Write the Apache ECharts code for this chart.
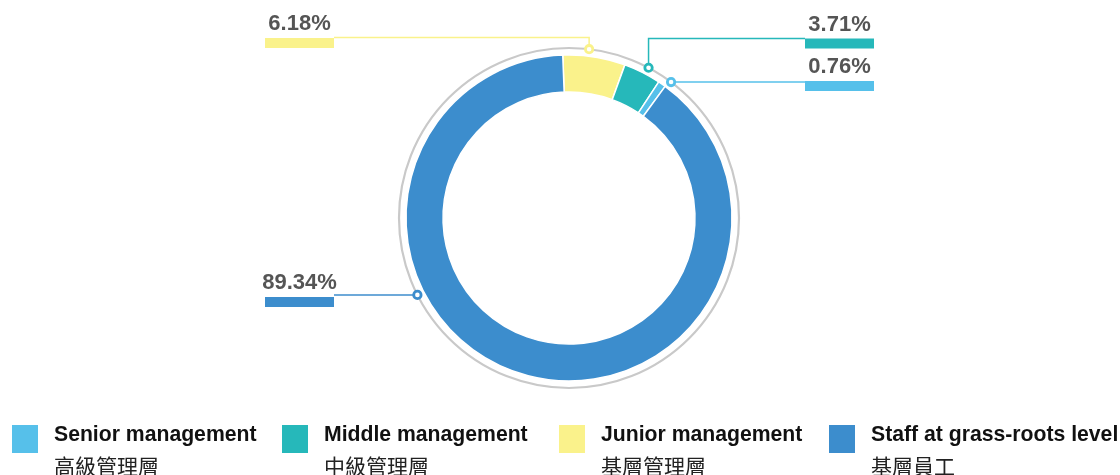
<!DOCTYPE html>
<html><head><meta charset="utf-8">
<script src="https://cdn.jsdelivr.net/npm/echarts@6/dist/echarts.min.js"></script>
<style>html,body{margin:0;padding:0;background:#fff}#c{width:1120px;height:475px}</style>
</head><body><div id="c"></div>
<script>
// ---- data ----
const categories = ['Junior management', 'Middle management', 'Senior management', 'Staff at grass-roots level'];
const categoriesZh = ['基層管理層', '中級管理層', '高級管理層', '基層員工'];
const values = [6.18, 3.71, 0.76, 89.34];
const colors = ['#FAF28B', '#26B8BA', '#56C0EA', '#3C8DCD'];
const legendOrder = [2, 1, 0, 3];

// ---- layout ----
const CX = 569, CY = 218, RING = 170;
const labelCfg = [
  { angle: 6.8,   barLeft: 265, barTop: 38,   lineY: 37.5, side: 'left' },
  { angle: 27.9,  barLeft: 805, barTop: 38.5, lineY: 38.5, side: 'right' },
  { angle: 36.9,  barLeft: 805, barTop: 81,   lineY: null, side: 'right' },
  { angle: 243.1, barLeft: 265, barTop: 297,  lineY: null, side: 'left' }
];
const legendX = [10, 280, 557, 827];
const BAR_W = 69, BAR_H = 10, TEXT_LH = 28;

function anchor(i) {
  const a = labelCfg[i].angle * Math.PI / 180;
  return [CX + RING * Math.sin(a), CY - RING * Math.cos(a)];
}

const rich = {
  v: { fontSize: 22, fontWeight: 'bold', color: '#555555', lineHeight: TEXT_LH, align: 'center', fontFamily: 'Liberation Sans' }
};
colors.forEach((c, i) => { rich['b' + i] = { width: BAR_W, height: BAR_H, lineHeight: BAR_H, backgroundColor: c }; });

const legends = legendOrder.map((idx, k) => ({
  data: [categories[idx]],
  left: legendX[k],
  top: 407,
  padding: 0,
  icon: 'rect',
  itemWidth: 28,
  itemHeight: 30,
  selectedMode: false,
  formatter: name => '{sp| }\n{en|' + name + '}\n{zh|' + categoriesZh[categories.indexOf(name)] + '}',
  textStyle: {
    rich: {
      sp: { lineHeight: 22, fontSize: 2 },
      en: { fontSize: 21.2, fontWeight: 'bold', color: '#111', lineHeight: 32, fontFamily: 'Liberation Sans', padding: [0, 0, 0, 10] },
      zh: { fontSize: 21, color: '#222', lineHeight: 30, fontFamily: 'Noto Sans CJK TC', padding: [0, 0, 0, 10] }
    }
  }
}));

const graphics = [{
  type: 'circle', z: 0, silent: true,
  shape: { cx: CX, cy: CY, r: RING },
  style: { fill: 'none', stroke: '#c9c9c9', lineWidth: 2.2 }
}];
labelCfg.forEach((c, i) => {
  const p = anchor(i);
  graphics.push({
    type: 'circle', z: 100, silent: true,
    shape: { cx: p[0], cy: p[1], r: 3.7 },
    style: { fill: '#fff', stroke: colors[i], lineWidth: 2.8 }
  });
});

const chart = echarts.init(document.getElementById('c'), null, { renderer: 'canvas' });
chart.setOption({
  animation: false,
  legend: legends,
  graphic: graphics,
  series: [{
    type: 'pie',
    center: [CX, CY],
    radius: [126, 163],
    startAngle: 92.2,
    clockwise: true,
    avoidLabelOverlap: false,
    emphasis: { disabled: true },
    itemStyle: { borderColor: '#fff', borderWidth: 1.5 },
    data: categories.map((n, i) => ({ name: n, value: values[i], itemStyle: { color: colors[i] } })),
    label: {
      show: true,
      formatter: p => '{v|' + p.value.toFixed(2) + '%}\n{b' + p.dataIndex + '|}',
      rich: rich
    },
    labelLine: { show: true, lineStyle: { width: 1.5 } },
    labelLayout: function (p) {
      const c = labelCfg[p.dataIndex];
      const d = anchor(p.dataIndex);
      const ly = c.lineY == null ? d[1] : c.lineY;
      const edgeX = c.side === 'left' ? c.barLeft + BAR_W : c.barLeft;
      return {
        x: c.barLeft + BAR_W / 2,
        y: c.barTop - TEXT_LH,
        align: 'center',
        verticalAlign: 'top',
        labelLinePoints: [[d[0], d[1]], [d[0], ly], [edgeX, ly]]
      };
    }
  }]
});
</script></body></html>
